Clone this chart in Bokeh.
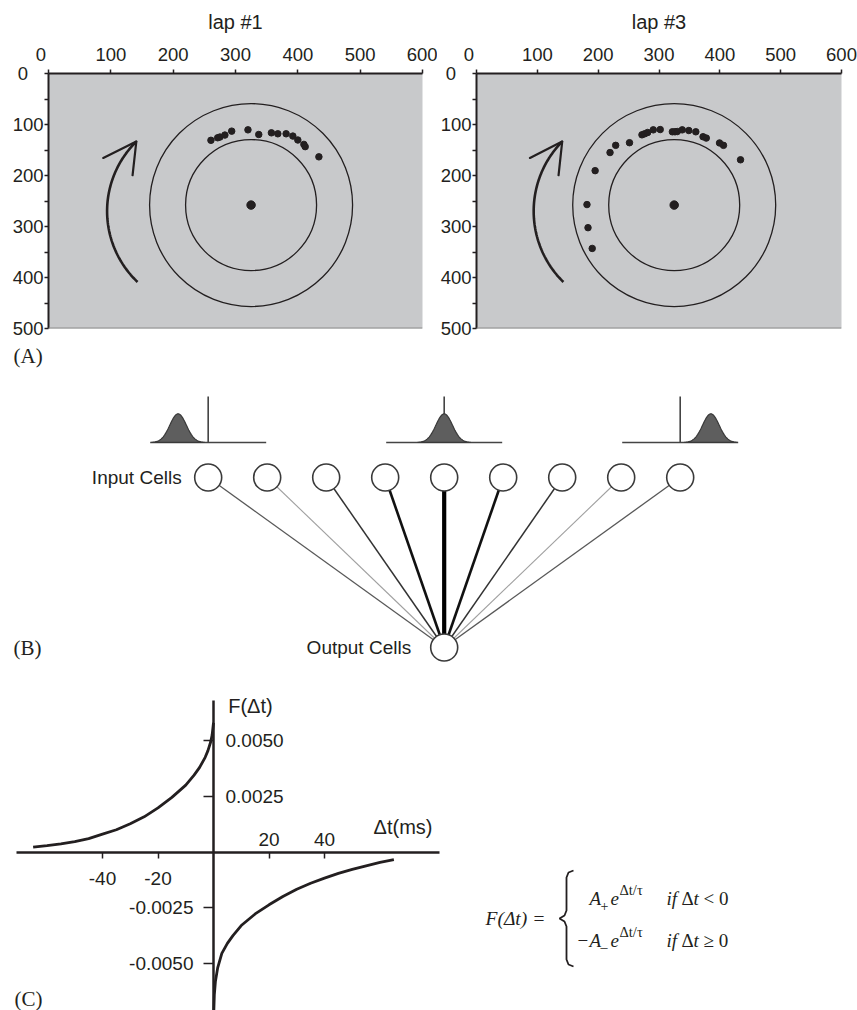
import numpy as np
from bokeh.plotting import figure
from bokeh.models import (Range1d, LinearAxis, FixedTicker, PrintfTickFormatter, Span,
                          CustomJSTickFormatter)
from bokeh.layouts import column, row
from bokeh.core.properties import value
from bokeh.embed import file_html
from bokeh.resources import INLINE

INK = "#231f20"
SANS = "Liberation Sans"
SERIF = "Liberation Serif"

# ---------------- Panel A data ----------------
lap_titles = ["lap #1", "lap #3"]
arena_xticks = [0, 100, 200, 300, 400, 500, 600]
arena_yticks = [0, 100, 200, 300, 400, 500]
arena_yminor = [50, 150, 250, 350, 450]
track_center_x = 325
track_center_y = 258
lap1_x = [260.6, 271.4, 275.0, 283.0, 293.9, 320.0, 337.3, 357.6, 367.9, 381.2, 392.0, 400.0, 409.7, 411.8, 433.8]
lap1_y = [131.0, 126.0, 124.6, 120.7, 113.0, 110.5, 119.6, 116.3, 118.2, 118.2, 122.7, 130.4, 139.0, 143.4, 163.4]
lap3_x = [181.6, 183.3, 190.2, 195.0, 219.5, 228.8, 251.5, 272.0, 276.4, 281.3, 290.6, 302.0, 322.0, 326.3,
          330.0, 338.2, 349.0, 360.5, 372.4, 377.7, 399.5, 406.0, 434.0]
lap3_y = [257.0, 302.3, 343.0, 190.5, 155.0, 140.9, 135.7, 120.2, 118.2, 115.7, 110.5, 109.9, 114.3, 114.3,
          113.8, 110.5, 111.8, 114.3, 124.0, 126.6, 136.2, 140.9, 169.2]
# running-direction arrow (data units of the arena)
arrow_cx, arrow_cy = 254, 270
arrow_rx, arrow_ry = 160, 193
arrow_start_deg, arrow_end_deg = 226, 135
head_dx = [-53, -6]
head_dy = [32, 66]

# ---------------- Panel B data ----------------
cell_idx = [0, 1, 2, 3, 4, 5, 6, 7, 8]
output_idx = 4
conn_width = [1.3, 1.1, 1.5, 2.6, 4.2, 2.6, 1.5, 1.1, 1.3]
conn_color = ["#585858", "#a0a0a0", "#333333", "#111111", "#000000", "#111111", "#333333", "#a0a0a0", "#585858"]
tuning_cells = [0, 4, 8]
tuning_shift = [-0.51, 0.0, 0.52]

# ---------------- Panel C data ----------------
dt_pre = [-65, -60, -55, -50, -45, -40, -35, -30, -25, -20, -15, -10, -7, -5, -3, -2, -1, -0.5, 0]
f_pre = [0.00022, 0.00029, 0.00037, 0.00047, 0.00060, 0.00080, 0.00100, 0.00127, 0.00158, 0.00198,
         0.00245, 0.00300, 0.00345, 0.00380, 0.00425, 0.00455, 0.00495, 0.00525, 0.00580]
dt_post = [0.0, 0.3, 0.7, 1.5, 3, 5, 7, 10, 15, 20, 25, 30, 35, 40, 45, 50, 55, 60, 65]
f_post = [-0.0076, -0.0064, -0.0058, -0.0052, -0.00455, -0.0041, -0.00375, -0.0033, -0.00278, -0.00237,
          -0.00200, -0.00167, -0.00140, -0.00117, -0.00096, -0.00078, -0.00062, -0.00047, -0.00034]
c_xticks = [-40, -20, 20, 40]
c_xticks_pos = [20, 40]
c_yticks = [-0.005, -0.0025, 0.0025, 0.005]
c_yticks_pos = [0.0025, 0.005]

ZERO_SHIFT = "0\u00a0\u00a0\u00a0"


def lap_panel(title, xs, ys, width, border_left, border_right):
    p = figure(width=width, height=340, x_range=Range1d(0, 600), y_range=Range1d(500, 0),
               x_axis_location="above", output_backend="svg", toolbar_location=None, title=title,
               min_border_left=border_left, min_border_right=border_right,
               min_border_top=70, min_border_bottom=12)
    p.title.align = "center"
    p.title.text_font = SANS
    p.title.text_font_size = "20px"
    p.title.text_font_style = "normal"
    p.title.text_color = INK
    p.title.standoff = 16
    p.background_fill_color = "#c8c9cb"
    p.outline_line_color = None
    p.grid.visible = False
    xa = p.xaxis[0]
    ya = p.yaxis[0]
    xa.ticker = FixedTicker(ticks=arena_xticks, minor_ticks=[])
    ya.ticker = FixedTicker(ticks=arena_yticks, minor_ticks=arena_yminor)
    for ax in (xa, ya):
        ax.axis_line_width = 2
        ax.axis_line_color = INK
        ax.major_tick_line_color = INK
        ax.major_tick_line_width = 1.5
        ax.major_tick_out = 4
        ax.major_tick_in = 0
        ax.minor_tick_line_color = INK
        ax.minor_tick_line_width = 1.5
        ax.minor_tick_out = 4
        ax.minor_tick_in = 0
        ax.major_label_text_font = SANS
        ax.major_label_text_font_size = "18.5px"
        ax.major_label_text_color = INK
        ax.major_label_overrides = {0: ZERO_SHIFT}
    xa.major_label_standoff = 5
    ya.major_label_standoff = 1
    p.add_layout(Span(location=500, dimension="width", line_color="#8d8d8d", line_width=2))
    p.scatter([track_center_x], [track_center_y], size=203, marker="circle",
              fill_color=None, line_color=INK, line_width=1.3)
    p.scatter([track_center_x], [track_center_y], size=131, marker="circle",
              fill_color=None, line_color=INK, line_width=1.3)
    p.scatter([track_center_x], [track_center_y], size=8.5, color=INK)
    p.scatter(xs, ys, size=6.5, color=INK)
    t = np.radians(np.linspace(arrow_start_deg, arrow_end_deg, 80))
    axx = arrow_cx + arrow_rx * np.cos(t)
    ayy = arrow_cy - arrow_ry * np.sin(t)
    p.line(axx, ayy, line_width=2.6, line_color=INK)
    tipx, tipy = float(axx[-1]), float(ayy[-1])
    p.segment([tipx, tipx], [tipy, tipy], [tipx + d for d in head_dx], [tipy + d for d in head_dy],
              line_width=2.2, line_color=INK, line_cap="round")
    return p


pA1 = lap_panel(lap_titles[0], lap1_x, lap1_y, 437, 48, 15)
pA3 = lap_panel(lap_titles[1], lap3_x, lap3_y, 420, 35, 16)

# ---------------- Panel B ----------------
IN_Y, OUT_Y, BASE_Y, VTOP_Y, BUMP_H = 477, 647, 442, 396, 28.7
pB = figure(width=857, height=328, x_range=Range1d(-3.520, 11.005), y_range=Range1d(668, 340),
            x_axis_type=None, y_axis_type=None, output_backend="svg", toolbar_location=None,
            min_border=0)
pB.outline_line_color = None
pB.grid.visible = False
pB.segment(x0=cell_idx, y0=[IN_Y] * 9, x1=[output_idx] * 9, y1=[OUT_Y] * 9,
           line_width=conn_width, line_color=conn_color)
pB.scatter(cell_idx, [IN_Y] * 9, size=27, marker="circle", fill_color="white",
           line_color="#3a3a3a", line_width=1.6)
pB.scatter([output_idx], [OUT_Y], size=27, marker="circle", fill_color="white",
           line_color="#3a3a3a", line_width=1.6)
for c, s in zip(tuning_cells, tuning_shift):
    pB.segment([c - 0.983], [BASE_Y], [c + 0.983], [BASE_Y], line_color="#444444", line_width=1.6)
    pB.segment([c], [VTOP_Y], [c], [BASE_Y], line_color="#444444", line_width=1.6)
    gx = np.linspace(-0.45, 0.45, 61)
    gy = BASE_Y - BUMP_H * np.exp(-0.5 * (gx / 0.14) ** 2)
    pB.patch(list(c + s + gx), list(gy), fill_color="#5e5e5e", line_color="#3a3a3a", line_width=1.2)
pB.text(x=[-0.45, 3.44], y=[IN_Y, OUT_Y], text=["Input Cells", "Output Cells"],
        text_font=value(SANS), text_font_size="19px", text_color=INK,
        text_align="right", text_baseline="middle")
pB.text(x=[-3.30, -3.30], y=[355, 647], text=["(A)", "(B)"],
        text_font=value(SERIF), text_font_size="21px", text_color=INK,
        text_align="left", text_baseline="middle")

# ---------------- Panel C ----------------
pC = figure(width=460, height=342, x_range=Range1d(-76.76, 89.01), y_range=Range1d(-0.007113, 0.008236),
            x_axis_type=None, y_axis_type=None, output_backend="svg", toolbar_location=None,
            min_border=0)
pC.outline_line_color = None
pC.grid.visible = False


def style_axis(ax):
    ax.axis_line_color = INK
    ax.axis_line_width = 2.5
    ax.major_tick_line_color = INK
    ax.major_tick_line_width = 1.5
    ax.minor_tick_line_color = None
    ax.major_label_text_font = SANS
    ax.major_label_text_font_size = "19px"
    ax.major_label_text_color = INK


# x axis line + all ticks (down), labels only for negative ticks (below)
ax_below = LinearAxis(fixed_location=0, ticker=FixedTicker(ticks=c_xticks, minor_ticks=[]),
                      bounds=(-70.9, 81.3),
                      formatter=CustomJSTickFormatter(code="return tick > 0 ? '' : tick.toFixed(0);"))
style_axis(ax_below)
ax_below.major_tick_out = 6
ax_below.major_tick_in = 0
ax_below.major_label_standoff = 14
pC.add_layout(ax_below, "below")

# labels for positive ticks, above the axis line
ax_above = LinearAxis(fixed_location=0, ticker=FixedTicker(ticks=c_xticks_pos, minor_ticks=[]),
                      bounds=(-70.9, 81.3), formatter=PrintfTickFormatter(format="%d"))
style_axis(ax_above)
ax_above.axis_line_color = None
ax_above.major_tick_line_color = None
ax_above.major_tick_out = 0
ax_above.major_tick_in = 0
ax_above.major_label_standoff = 6
pC.add_layout(ax_above, "above")

# y axis line + all ticks (left), labels only for negative ticks (left side)
ax_left = LinearAxis(fixed_location=0, ticker=FixedTicker(ticks=c_yticks, minor_ticks=[]),
                     bounds=(-0.0078, 0.0068),
                     formatter=CustomJSTickFormatter(code="return tick > 0 ? '' : tick.toFixed(4);"))
style_axis(ax_left)
ax_left.major_tick_out = 10
ax_left.major_tick_in = 0
ax_left.major_label_standoff = 10
pC.add_layout(ax_left, "left")

# labels for positive ticks, right of the axis line
ax_right = LinearAxis(fixed_location=0, ticker=FixedTicker(ticks=c_yticks_pos, minor_ticks=[]),
                      bounds=(-0.0078, 0.0068), formatter=PrintfTickFormatter(format="%.4f"))
style_axis(ax_right)
ax_right.axis_line_color = None
ax_right.major_tick_line_color = None
ax_right.major_tick_out = 0
ax_right.major_tick_in = 0
ax_right.major_label_standoff = 12
pC.add_layout(ax_right, "right")

pC.line(dt_pre, f_pre, line_width=2.8, line_color=INK)
pC.line(dt_post, f_post, line_width=2.8, line_color=INK)
pC.text(x=[5.3, 57.7], y=[0.006575, 0.00111], text=["F(\u0394t)", "\u0394t(ms)"],
        text_font=value(SANS), text_font_size="20px", text_color=INK,
        text_align="left", text_baseline="middle")
pC.text(x=[-71.7], y=[-0.006575], text=["(C)"], text_font=value(SERIF), text_font_size="21px",
        text_color=INK, text_align="left", text_baseline="middle")

# ---------------- Formula ----------------
pF = figure(width=397, height=342, x_range=Range1d(460, 857), y_range=Range1d(1010, 668),
            x_axis_type=None, y_axis_type=None, output_backend="svg", toolbar_location=None,
            min_border=0)
pF.outline_line_color = None
pF.grid.visible = False


def ftext(x, y, s, size="19px", style="italic", align="left"):
    pF.text(x=[x], y=[y], text=[s], text_font=value(SERIF), text_font_size=size,
            text_font_style=style, text_color=INK, text_align=align, text_baseline="middle")


L1, L2, MID = 898, 940, 918
ftext(485, MID, "F(\u0394t) =", size="19.5px")
bx = [573, 568, 566, 566, 564, 559, 564, 566, 566, 568, 573]
by = [870, 872, 877, 910, 915, 918, 921, 926, 959, 964, 966]
pF.line(bx, by, line_color=INK, line_width=1.8)
for yy, sign, sub, rel in [(L1, "", "+", "<"), (L2, "\u2212", "\u2013", "\u2265")]:
    if sign:
        ftext(577, yy, sign, style="normal")
    ftext(589, yy, "A")
    ftext(600, yy + 7, sub, size="14px", style="normal")
    ftext(610, yy, "e")
    ftext(619, yy - 9, "\u0394t/\u03c4", size="14.5px", style="normal")
    ftext(666, yy, "if")
    ftext(681, yy, "\u0394", style="normal")
    ftext(693, yy, "t")
    ftext(703, yy, rel + " 0", style="normal")

layout = column(row(pA1, pA3), pB, row(pC, pF))
open("out.html", "w").write(file_html(layout, INLINE))
